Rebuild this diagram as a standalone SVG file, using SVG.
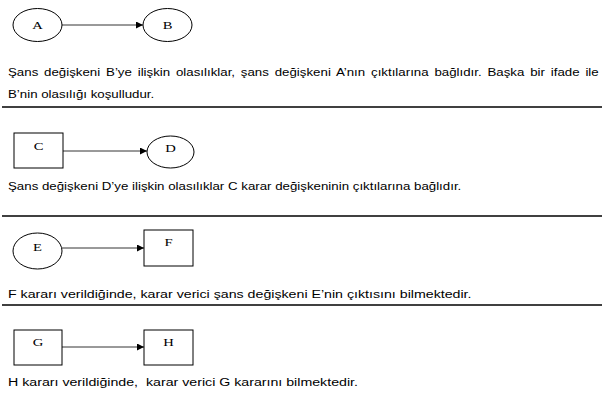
<svg xmlns="http://www.w3.org/2000/svg" width="602" height="396" viewBox="0 0 602 396">
<style>
.shape{fill:#fff;stroke:#000;stroke-width:1}
.lbl{font-family:"Liberation Serif","Times New Roman",serif;font-size:11px;fill:#000;text-anchor:middle}
.txt{font-family:"Liberation Sans",Arial,sans-serif;font-size:10px;fill:#000}
.edge{stroke:#000;stroke-width:0.8;fill:none;marker-end:url(#arr)}
.rule{stroke:#000;stroke-width:1.3}
</style>
<defs>
<marker id="arr" viewBox="0 0 10 10" refX="10" refY="5" markerWidth="7" markerHeight="7" markerUnits="userSpaceOnUse" orient="auto">
<path d="M0,0 L10,5 L0,10 z" fill="#000"/>
</marker>
</defs>
<g id="connectors">
<line class="edge" x1="62" y1="25" x2="143" y2="25"/>
<line class="edge" x1="63" y1="151" x2="147" y2="151"/>
<line class="edge" x1="62" y1="248" x2="144" y2="248"/>
<line class="edge" x1="62" y1="347" x2="144" y2="347"/>
</g>
<g id="A"><ellipse class="shape" cx="37.5" cy="25" rx="24.5" ry="16.5"/><text class="lbl" transform="translate(37.5,29) scale(1.33,1)">A</text></g>
<g id="B"><ellipse class="shape" cx="167.5" cy="25" rx="24.5" ry="16.5"/><text class="lbl" transform="translate(167.5,29) scale(1.33,1)">B</text></g>
<g id="C"><rect class="shape" x="14" y="133" width="49" height="35"/><text class="lbl" transform="translate(38.5,150) scale(1.33,1)">C</text></g>
<g id="D"><ellipse class="shape" cx="170.5" cy="152" rx="23.5" ry="16"/><text class="lbl" transform="translate(170.5,152) scale(1.33,1)">D</text></g>
<g id="E"><ellipse class="shape" cx="37.5" cy="251" rx="24.5" ry="18"/><text class="lbl" transform="translate(37.5,251) scale(1.33,1)">E</text></g>
<g id="F"><rect class="shape" x="144" y="230" width="49" height="36"/><text class="lbl" transform="translate(168.5,246) scale(1.33,1)">F</text></g>
<g id="G"><rect class="shape" x="14" y="330" width="48" height="35"/><text class="lbl" transform="translate(38,346) scale(1.33,1)">G</text></g>
<g id="H"><rect class="shape" x="144" y="330" width="49" height="35"/><text class="lbl" transform="translate(168.5,346) scale(1.33,1)">H</text></g>
<g id="texts">
<text class="txt" transform="translate(8,76) scale(1.33,1)" word-spacing="1.6">Şans değişkeni B’ye ilişkin olasılıklar, şans değişkeni A’nın çıktılarına bağlıdır. Başka bir ifade ile</text>
<text class="txt" transform="translate(8,98) scale(1.33,1)">B’nin olasılığı koşulludur.</text>
<text class="txt" transform="translate(8,190) scale(1.33,1)">Şans değişkeni D’ye ilişkin olasılıklar C karar değişkeninin çıktılarına bağlıdır.</text>
<text class="txt" transform="translate(8,298) scale(1.42,1)">F kararı verildiğinde, karar verici şans değişkeni E’nin çıktısını bilmektedir.</text>
<text class="txt" transform="translate(8,386) scale(1.42,1)" xml:space="preserve">H kararı verildiğinde,  karar verici G kararını bilmektedir.</text>
</g>
<g id="rules">
<line class="rule" x1="2" y1="107" x2="602" y2="107"/>
<line class="rule" x1="2" y1="216" x2="602" y2="216"/>
<line class="rule" x1="2" y1="305" x2="602" y2="305"/>
</g>
</svg>
